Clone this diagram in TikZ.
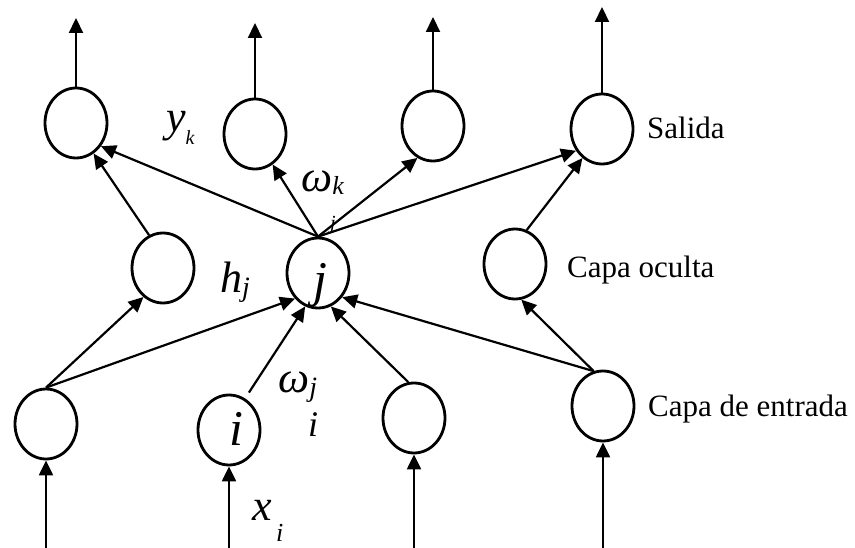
\documentclass[tikz,border=0pt]{standalone}
\usepackage{fontspec}
\setmainfont{Liberation Serif}
\usetikzlibrary{
  arrows.meta,
  shapes.geometric
}
% size, drop, letter
\newcommand{\lowidx}[3]{\raisebox{-#2}{\fontsize{#1}{#1}\selectfont #3}}
\tikzset{
  neuron/.style={
    draw,
    ellipse,
    line width=2.8pt,
    minimum width=62pt,
    minimum height=70pt,
    inner sep=0pt
  },
  unitname/.style={anchor=base, inner sep=0pt, font=\fontsize{50}{50}\selectfont\itshape},
  arrow/.style={-{Triangle[length=15pt, width=14pt]}, line width=2.2pt},
  layername/.style={anchor=base west, inner sep=0pt, font=\fontsize{31}{31}\selectfont},
  symb/.style={anchor=base west, inner sep=0pt, font=\fontsize{44}{44}\selectfont\itshape},
  idx/.style={symb, font=\fontsize{#1}{#1}\selectfont\itshape}
}

\begin{document}
\begin{tikzpicture}[x=1pt, y=-1pt]
  \useasboundingbox (0,0) rectangle (855,548);

  % output layer
  \node[neuron] (out1) at (76,123) {};
  \node[neuron] (out2) at (255,134) {};
  \node[neuron] (out3) at (433,126) {};
  \node[neuron] (out4) at (602,129) {};

  % hidden layer
  \node[neuron] (hid1) at (163,268) {};
  \node[neuron] (hidj) at (318,273) {};
  \node[neuron] (hid3) at (515,264) {};
  \node[unitname] (jname) at ([shift={(2,24)}]hidj.center) {j};

  % input layer
  \node[neuron] (in1) at (46,424) {};
  \node[neuron] (ini) at (229,430) {};
  \node[neuron] (in3) at (414,418) {};
  \node[neuron] (in4) at (603,406) {};
  \node[unitname] (iname) at ([shift={(7,15)}]ini.center) {i};

  % outgoing and incoming signals
  \foreach \n/\y in {out1/18, out2/23, out3/17, out4/7} {
    \coordinate (\n-up) at (\n.north |- 0,\y);
    \draw[arrow] (\n.north) -- (\n-up);
  }
  \foreach \n in {in1, ini, in3, in4} {
    \coordinate (\n-src) at (\n.south |- 0,548);
    \draw[arrow] (\n-src) -- (\n.south);
  }

  % hidden -> output
  \draw[arrow] (hid1.113) -- (out1.-60);
  \draw[arrow] (hidj.north) -- (out1.-43);
  \draw[arrow] (hidj.north) -- (out2.-60);
  \draw[arrow] (hidj.north) -- (out3.-116);
  \draw[arrow] (hidj.north) -- (out4.-140);
  \draw[arrow] (hid3.71) -- (out4.-124);

  % input -> hidden
  \draw[arrow] (in1.north) -- (hid1.-124);
  \draw[arrow] (in1.north) -- (hidj.-132);
  \draw[arrow, shorten <=7pt] (ini.63) -- (hidj.-111);
  \draw[arrow] (in3.99) -- (hidj.-69);
  \draw[arrow] (in4.105) -- (hidj.-45);
  \draw[arrow] (in4.105) -- (hid3.-80);

  % symbols
  \node[symb] (yk) at (166,132) {y\lowidx{20}{13pt}{k}};
  \node[symb] (wk) at (301,192) {ω\lowidx{26}{3pt}{k}};
  \node[idx=20] (wkj) at (330,230) {j};
  \node[symb] (hj) at (220,293) {h\lowidx{28}{4pt}{j}};
  \node[symb] (wj) at (278,392) {ω\lowidx{28}{4pt}{j}};
  \node[idx=36] (wji) at (308,436) {i};
  \node[symb] (xi) at (252,520) {x};
  \node[idx=26] (xii) at (276,541) {i};

  % layer names
  \node[layername] (salida) at (647,139) {Salida};
  \node[layername] (oculta) at (567,278) {Capa oculta};
  \node[layername] (entrada) at (648,417) {Capa de entrada};
\end{tikzpicture}
\end{document}
